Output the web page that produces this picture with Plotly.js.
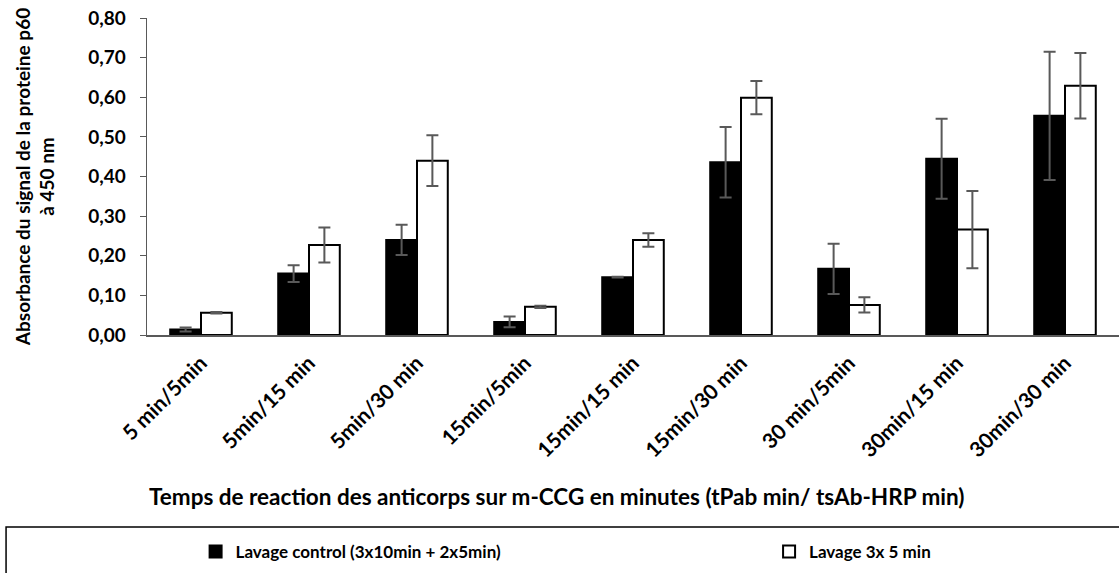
<!DOCTYPE html>
<html>
<head>
<meta charset="utf-8">
<script src="https://cdn.plot.ly/plotly-3.0.1.min.js"></script>
<style>html,body{margin:0;padding:0;background:#fff;}#chart{width:1119px;height:573px;}</style>
</head>
<body>
<div id="chart"></div>
<script>
const categories = ["5 min/5min","5min/15 min","5min/30 min","15min/5min","15min/15 min","15min/30 min","30 min/5min","30min/15 min","30min/30 min"];
const controlValues = [0.014,0.155,0.240,0.033,0.146,0.436,0.167,0.445,0.553];
const controlErrors = [0.005,0.021,0.038,0.0135,0.001,0.089,0.0635,0.101,0.162];
const lavage3xValues = [0.056,0.227,0.440,0.071,0.240,0.599,0.076,0.266,0.629];
const lavage3xErrors = [0.002,0.044,0.064,0.003,0.017,0.042,0.019,0.0975,0.0825];
const seriesNames = ["Lavage control (3x10min + 2x5min)","Lavage 3x 5 min"];
const yTicks = [0,0.1,0.2,0.3,0.4,0.5,0.6,0.7,0.8];
const xTitle = 'Temps de reaction des anticorps sur m-CCG en minutes (tPab min/ tsAb-HRP min)';
const yTitle = 'Absorbance du signal de la proteine p60<br>à 450 nm';

const font = "Lato, 'Open Sans', sans-serif";
const errStyle = {type:'data', visible:true, color:'#595959', thickness:2, width:6};

const traces = [
  {type:'bar', name:seriesNames[0], x:categories, y:controlValues, legend:'legend',
   error_y:Object.assign({array:controlErrors}, errStyle),
   marker:{color:'#000000', line:{color:'#000000', width:2}}},
  {type:'bar', name:seriesNames[1], x:categories, y:lavage3xValues, legend:'legend2',
   error_y:Object.assign({array:lavage3xErrors}, errStyle),
   marker:{color:'#ffffff', line:{color:'#000000', width:2}}}
];

const legendFont = {family:font, size:17, weight:'bold', color:'#000'};
const layout = {
  width:1119, height:573,
  margin:{l:147, r:0, t:18, b:238},
  paper_bgcolor:'#fff', plot_bgcolor:'#fff',
  separators:',.',
  barmode:'group', bargap:0.43, bargroupgap:0,
  font:{family:font, size:18, color:'#000', weight:'bold'},
  xaxis:{
    type:'category', tickangle:-45, showline:true, linecolor:'#595959', linewidth:1.5,
    ticks:'', showgrid:false, zeroline:false, ticklabelstandoff:6,
    tickfont:{family:font, size:21, weight:'bold', color:'#000'}
  },
  yaxis:{
    range:[0,0.8], tickvals:yTicks, tickformat:'.2f', showline:true, linecolor:'#595959', linewidth:1.5,
    ticks:'outside', ticklen:6, tickcolor:'#595959', showgrid:false, zeroline:false,
    ticklabelstandoff:10,
    tickfont:{family:font, size:19, weight:'bold', color:'#000'},
    title:{text:yTitle, font:{family:font, size:19, weight:'bold', color:'#000'}, standoff:28}
  },
  showlegend:true,
  legend:{x:0.05, xanchor:'left', y:-0.6845, yanchor:'middle', font:legendFont,
          itemwidth:30, bgcolor:'rgba(0,0,0,0)'},
  legend2:{x:0.64, xanchor:'left', y:-0.6845, yanchor:'middle', font:legendFont,
          itemwidth:30, bgcolor:'rgba(0,0,0,0)'},
  annotations:[{xref:'paper', yref:'paper', x:0.4218, y:-0.511, xanchor:'center', yanchor:'middle',
                showarrow:false, text:xTitle, font:{family:font, size:22.5, weight:'bold', color:'#000'}}],
  shapes:[{type:'rect', xref:'paper', yref:'paper', x0:-0.145, x1:1.01, y0:-0.8, y1:-0.6057,
           line:{color:'#000', width:1.5}, fillcolor:'rgba(0,0,0,0)', layer:'below'}]
};

Plotly.newPlot('chart', traces, layout, {displayModeBar:false, staticPlot:true});
</script>
</body>
</html>
